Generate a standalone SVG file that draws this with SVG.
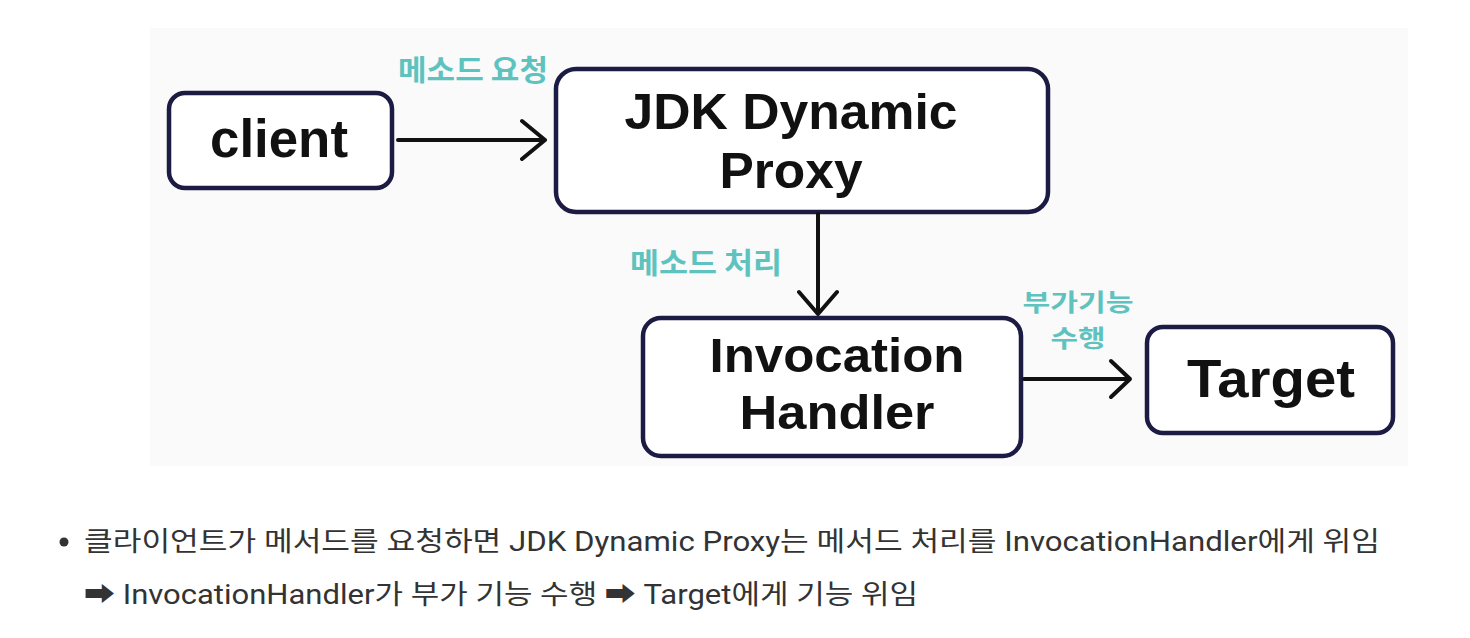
<svg xmlns="http://www.w3.org/2000/svg" width="1470" height="638" viewBox="0 0 1470 638">
<style>
.box{fill:#ffffff;stroke:#1b1b44;stroke-width:4.5}
.nt{font-family:"Liberation Sans","Noto Sans CJK KR",sans-serif;font-weight:700;fill:#111111;text-anchor:middle}
.lb{font-family:"Noto Sans CJK KR",sans-serif;font-weight:700;fill:#5ec3bf;text-anchor:middle}
.con{fill:none;stroke:#111111;stroke-width:4;stroke-linecap:round;stroke-linejoin:round}
.body{font-family:Roboto,"Noto Sans CJK KR","DejaVu Sans",sans-serif;fill:#333333;font-size:27px}
</style>
<rect x="150" y="28" width="1258" height="438" fill="#fafafa"/>
<g id="client">
<rect class="box" x="169" y="93" width="223" height="95" rx="16"/>
<text class="nt" x="279" y="157" font-size="54" textLength="138" lengthAdjust="spacingAndGlyphs">client</text>
</g>
<g id="proxy">
<rect class="box" x="556" y="69" width="492" height="143" rx="20"/>
<text class="nt" x="791" y="129" font-size="50" textLength="333" lengthAdjust="spacingAndGlyphs">JDK Dynamic</text>
<text class="nt" x="791" y="188" font-size="50" textLength="143" lengthAdjust="spacingAndGlyphs">Proxy</text>
</g>
<g id="handler">
<rect class="box" x="643" y="318" width="378" height="138" rx="18"/>
<text class="nt" x="837" y="372" font-size="49" textLength="255" lengthAdjust="spacingAndGlyphs">Invocation</text>
<text class="nt" x="837" y="429" font-size="49" textLength="195" lengthAdjust="spacingAndGlyphs">Handler</text>
</g>
<g id="target">
<rect class="box" x="1147" y="327" width="246" height="106" rx="16"/>
<text class="nt" x="1271" y="397" font-size="54" textLength="168" lengthAdjust="spacingAndGlyphs">Target</text>
</g>
<g id="connectors">
<path class="con" d="M398 140 H545 M522 121 L545 140 L522 159"/>
<path class="con" d="M818 214 V314 M799 292 L818 314 L837 292"/>
<path class="con" d="M1024 379 H1130 M1111 361 L1130 379 L1111 397"/>
</g>
<g id="labels">
<text class="lb" x="473" y="81" font-size="29" textLength="150" lengthAdjust="spacingAndGlyphs">메소드 요청</text>
<text class="lb" x="706" y="274" font-size="29" textLength="152" lengthAdjust="spacingAndGlyphs">메소드 처리</text>
<text class="lb" x="1078" y="311" font-size="24" textLength="111" lengthAdjust="spacingAndGlyphs">부가기능</text>
<text class="lb" x="1078" y="347" font-size="24" textLength="55" lengthAdjust="spacingAndGlyphs">수행</text>
</g>
<g id="caption">
<circle cx="64" cy="542" r="4.5" fill="#333333"/>
<text class="body" x="84" y="551" textLength="1296" lengthAdjust="spacingAndGlyphs">클라이언트가 메서드를 요청하면 JDK Dynamic Proxy는 메서드 처리를 InvocationHandler에게 위임</text>
<text class="body" x="84" y="604" textLength="834" lengthAdjust="spacingAndGlyphs">➡ InvocationHandler가 부가 기능 수행 ➡ Target에게 기능 위임</text>
</g>
</svg>
